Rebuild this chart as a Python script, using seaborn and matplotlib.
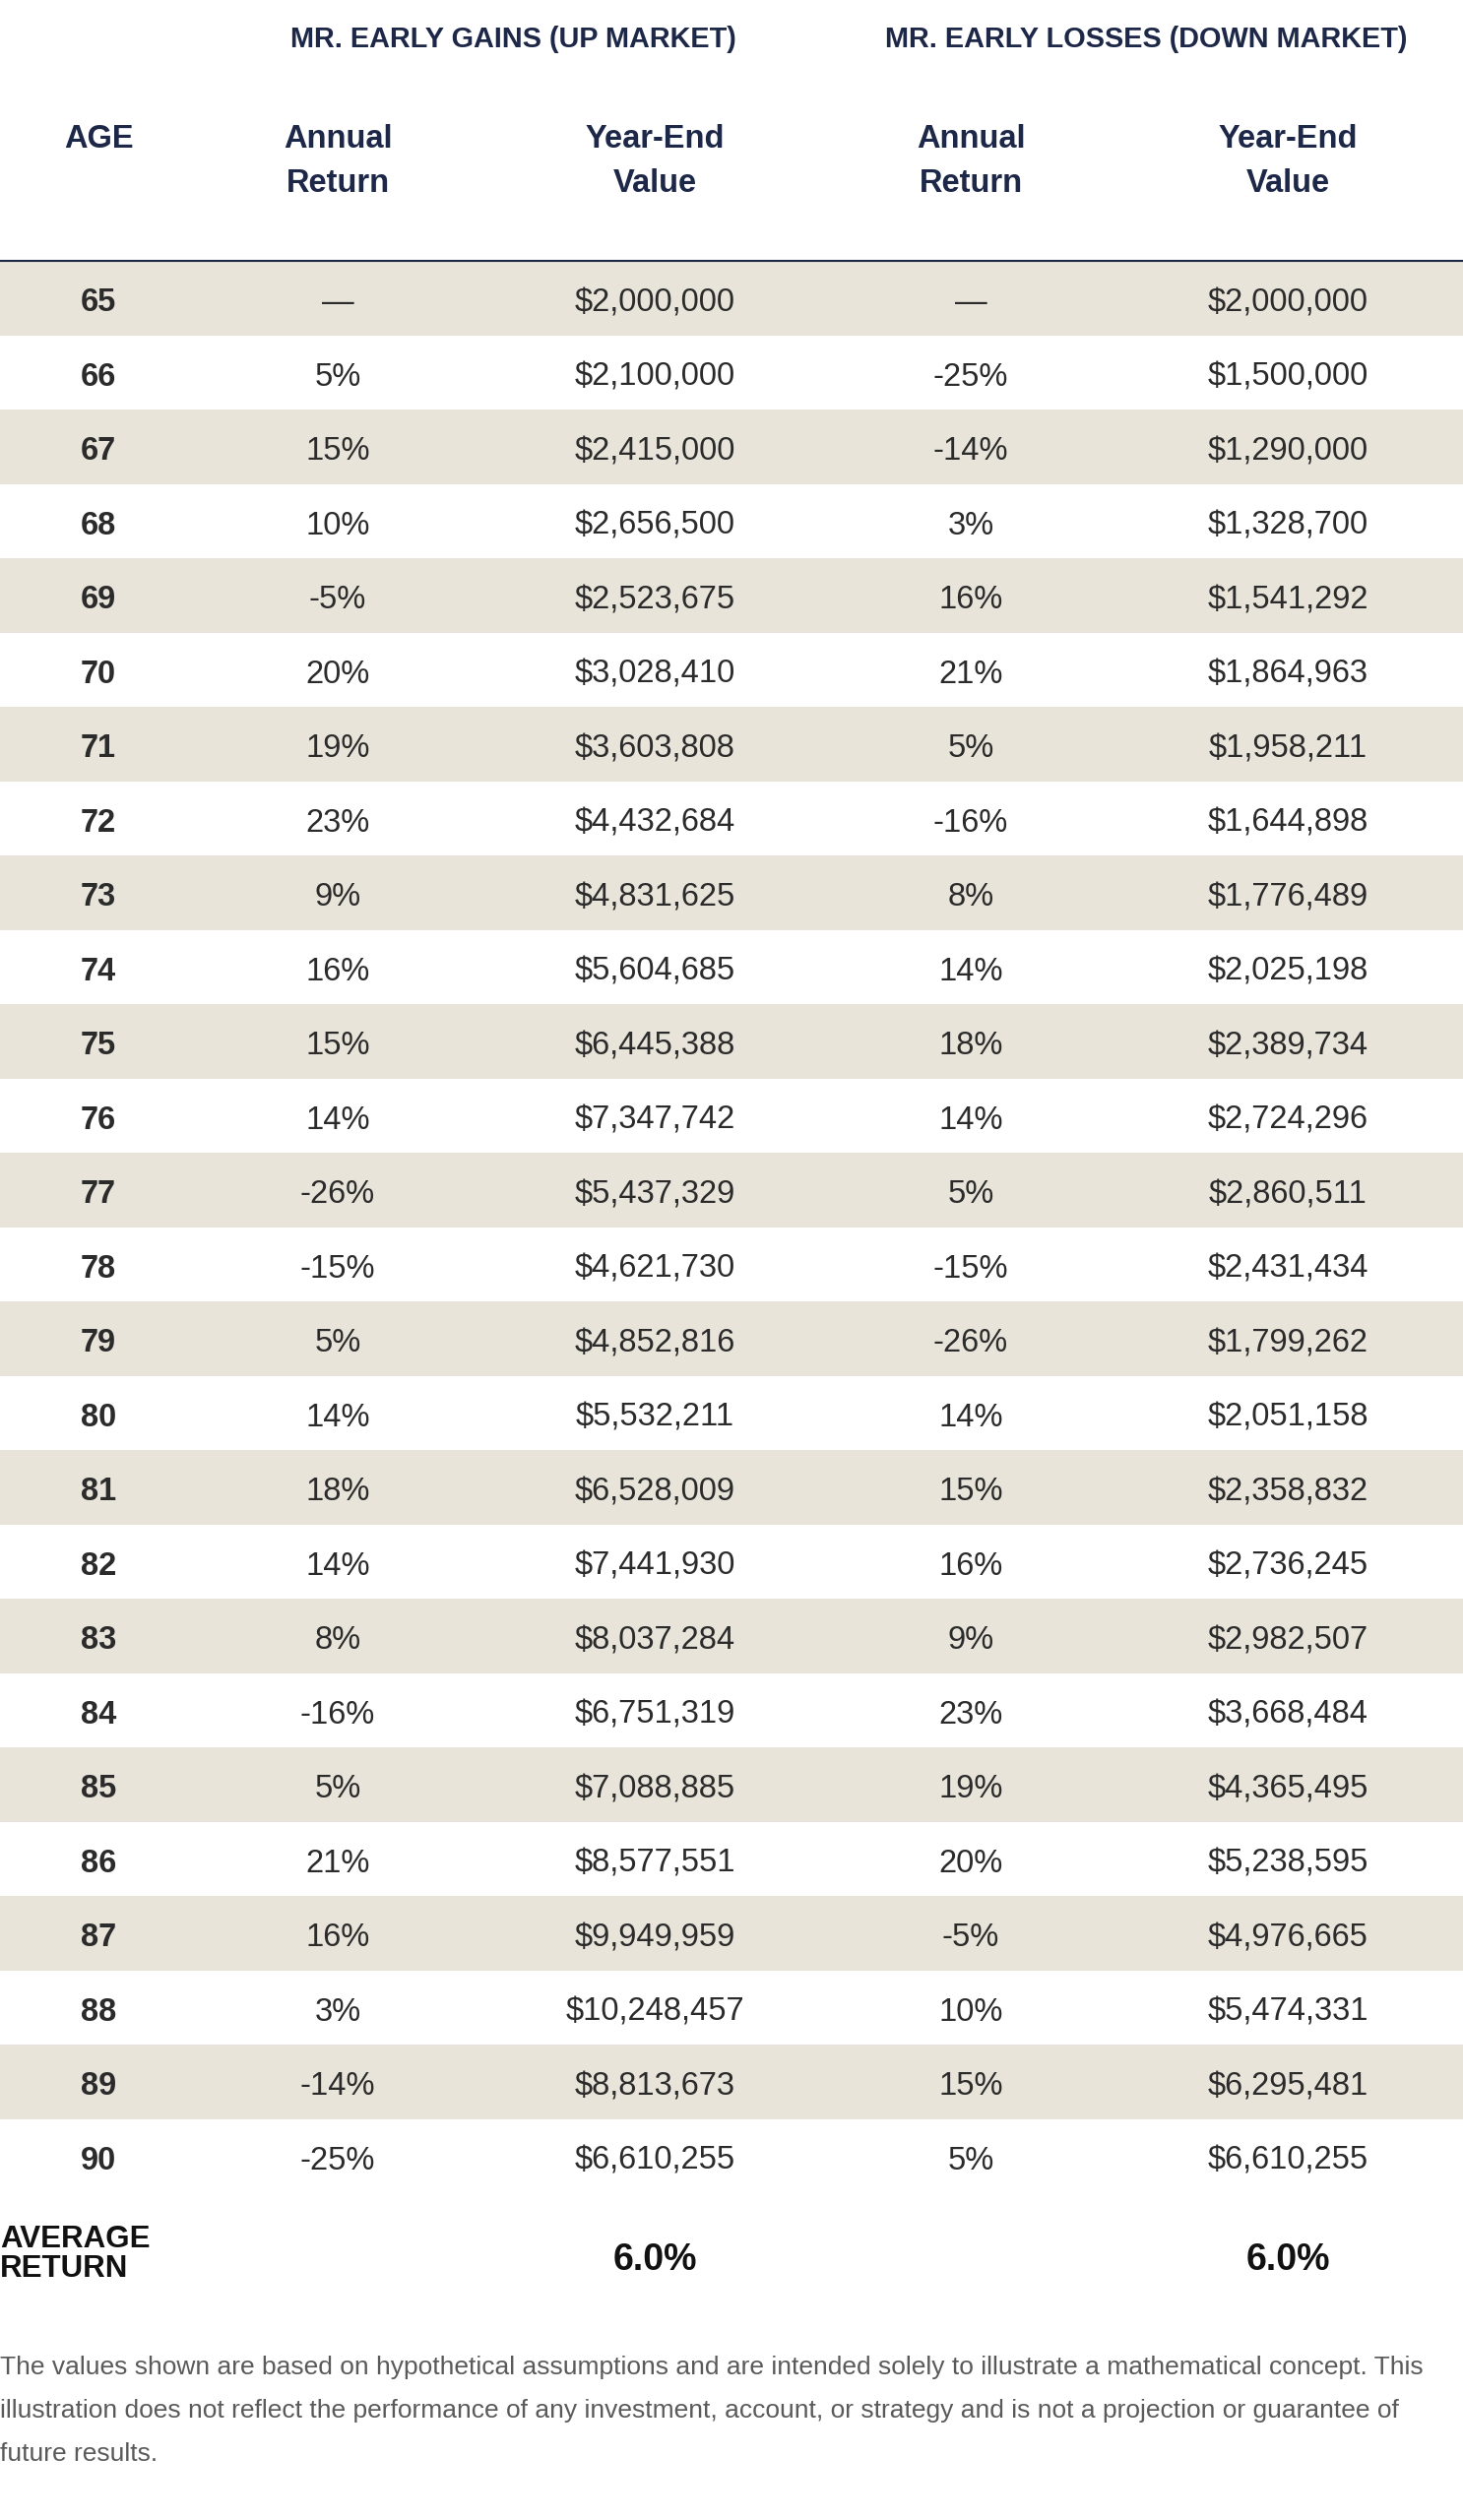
import numpy as np
import matplotlib
matplotlib.use("Agg")
import matplotlib.pyplot as plt
from matplotlib.colors import ListedColormap
import seaborn as sns

# table data
ages = [65, 66, 67, 68, 69, 70, 71, 72, 73, 74, 75, 76, 77, 78, 79, 80,
        81, 82, 83, 84, 85, 86, 87, 88, 89, 90]
gains_return = [None, 5, 15, 10, -5, 20, 19, 23, 9, 16, 15, 14, -26, -15, 5, 14,
                18, 14, 8, -16, 5, 21, 16, 3, -14, -25]
gains_value = [2000000, 2100000, 2415000, 2656500, 2523675, 3028410, 3603808,
               4432684, 4831625, 5604685, 6445388, 7347742, 5437329, 4621730,
               4852816, 5532211, 6528009, 7441930, 8037284, 6751319, 7088885,
               8577551, 9949959, 10248457, 8813673, 6610255]
losses_return = [None, -25, -14, 3, 16, 21, 5, -16, 8, 14, 18, 14, 5, -15, -26, 14,
                 15, 16, 9, 23, 19, 20, -5, 10, 15, 5]
losses_value = [2000000, 1500000, 1290000, 1328700, 1541292, 1864963, 1958211,
                1644898, 1776489, 2025198, 2389734, 2724296, 2860511, 2431434,
                1799262, 2051158, 2358832, 2736245, 2982507, 3668484, 4365495,
                5238595, 4976665, 5474331, 6295481, 6610255]
avg_return = [6.0, 6.0]
group_titles = ["MR. EARLY GAINS (UP MARKET)", "MR. EARLY LOSSES (DOWN MARKET)"]
footnote = [
    "The values shown are based on hypothetical assumptions and are intended solely to illustrate a mathematical concept. This",
    "illustration does not reflect the performance of any investment, account, or strategy and is not a projection or guarantee of",
    "future results.",
]

sns.set_theme(style="white")
plt.rcParams['font.family'] = ['Liberation Sans', 'DejaVu Sans']

W, H = 1486, 2560
TOP, ROW = 265, 75.5
NAVY = '#1d2747'
TXT = '#2b2b2b'
BAND = '#e8e4da'


def X(px):
    return px / W


def Y(px):
    return (px - TOP) / ROW


fig = plt.figure(figsize=(W / 100, H / 100), dpi=100)
ax = fig.add_axes([0, 0, 1, 1])

# alternating row bands
bands = np.array([[i % 2] for i in range(len(ages))])
sns.heatmap(bands, ax=ax, cmap=ListedColormap([BAND, 'white']), vmin=0, vmax=1,
            cbar=False, xticklabels=False, yticklabels=False)
ax.set_xlim(0, 1)
ax.set_ylim(Y(H), Y(0))
ax.axis('off')
ax.axhline(0, color=NAVY, lw=1.5)

col_x = [X(100), X(343), X(665), X(986), X(1308)]

# group headers
ax.text(X(521), Y(40), group_titles[0], ha='center', va='center',
        fontsize=20.8, fontweight='bold', color=NAVY)
ax.text(X(1164), Y(40), group_titles[1], ha='center', va='center',
        fontsize=20.8, fontweight='bold', color=NAVY)

# column headers
hdr = [("AGE", ""), ("Annual", "Return"), ("Year-End", "Value"),
       ("Annual", "Return"), ("Year-End", "Value")]
for cx, (l1, l2) in zip(col_x, hdr):
    ax.text(cx, Y(150), l1, ha='center', va='baseline', fontsize=23.5,
            fontweight='bold', color=NAVY)
    if l2:
        ax.text(cx, Y(195), l2, ha='center', va='baseline', fontsize=23.5,
                fontweight='bold', color=NAVY)


def pct(v):
    return "\u2014" if v is None else f"{v}%"


for i, age in enumerate(ages):
    yb = i + 0.5 + 13.3 / ROW
    ax.text(col_x[0], yb, str(age), ha='center', va='baseline', fontsize=23.5,
            fontweight='bold', color=TXT)
    cells = [pct(gains_return[i]), f"${gains_value[i]:,}",
             pct(losses_return[i]), f"${losses_value[i]:,}"]
    for cx, s in zip(col_x[1:], cells):
        ax.text(cx, yb, s, ha='center', va='baseline', fontsize=23.5, color=TXT)

# average return row
ax.text(0, Y(2283), "AVERAGE", ha='left', va='baseline', fontsize=22.5,
        fontweight='bold', color='#111111')
ax.text(0, Y(2313), "RETURN", ha='left', va='baseline', fontsize=22.5,
        fontweight='bold', color='#111111')
for cx, v in zip([col_x[2], col_x[4]], avg_return):
    ax.text(cx, Y(2306), f"{v:.1f}%", ha='center', va='baseline', fontsize=27,
            fontweight='bold', color='#111111')

# footnote
for k, line in enumerate(footnote):
    ax.text(0, Y(2412 + 44 * k), line, ha='left', va='baseline', fontsize=19,
            color='#5a5a5a')

fig.savefig("out.png", dpi=100)
